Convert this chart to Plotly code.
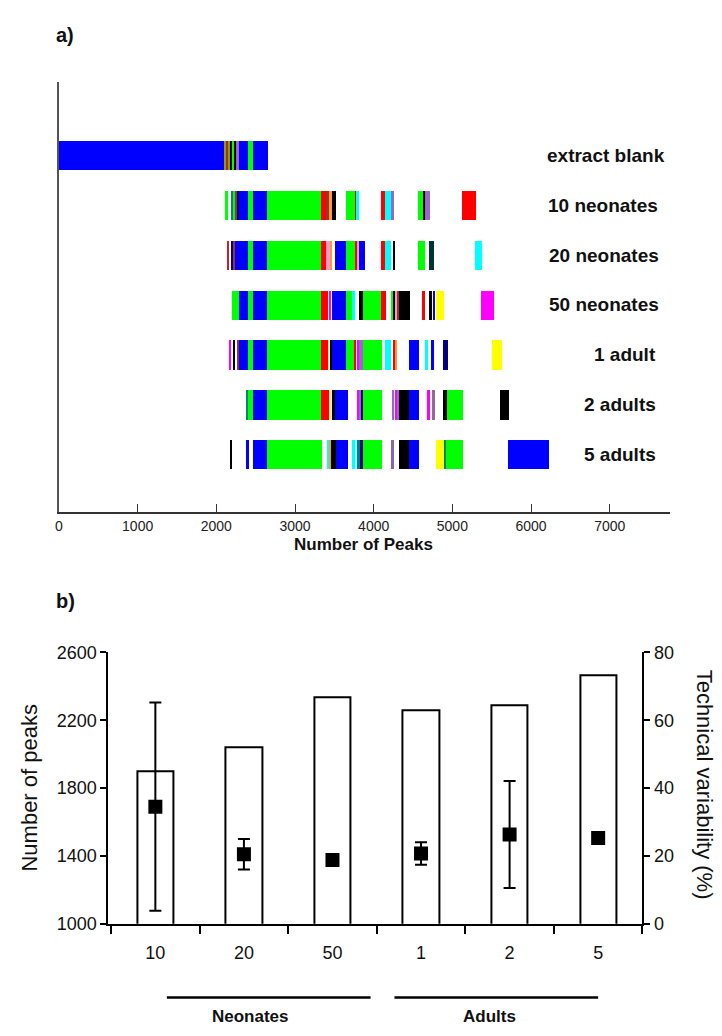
import plotly.graph_objects as go

# ---------------- data: panel a (peak segments per sample, in Number of Peaks) ----------------
B, G, R, C, M, Y, K = "#0000FF", "#00FF00", "#FF0000", "#00FFFF", "#FF00FF", "#FFFF00", "#000000"
P, N, O, OR, BR, T, PK, CR, GP = ("#9966CC", "#000080", "#999900", "#FF9933", "#993333",
                                  "#008080", "#FF99CC", "#FFEEAA", "#996699")

row_labels = ["extract blank", "10 neonates", "20 neonates", "50 neonates",
              "1 adult", "2 adults", "5 adults"]

seg_blank = [(0, 2107, B), (2107, 2128, O), (2128, 2149, BR), (2149, 2178, O), (2178, 2204, K),
             (2204, 2225, G), (2225, 2246, K), (2246, 2288, P), (2288, 2400, B), (2400, 2465, G),
             (2465, 2655, B)]
seg_10n = [(2107, 2149, G), (2191, 2215, T), (2215, 2240, G), (2240, 2262, BR), (2262, 2290, N),
           (2290, 2400, B), (2400, 2465, G), (2465, 2642, B), (2642, 3329, G), (3329, 3392, R),
           (3392, 3434, BR), (3434, 3467, OR), (3467, 3518, K), (3653, 3763, G), (3763, 3779, R),
           (3779, 3813, C), (4095, 4142, R), (4142, 4226, C), (4226, 4256, P), (4563, 4622, G),
           (4622, 4656, K), (4656, 4711, P), (5119, 5296, R)]
seg_20n = [(2136, 2161, "#CC2222"), (2187, 2212, N), (2212, 2235, BR), (2235, 2400, B),
           (2400, 2465, G), (2465, 2642, B), (2642, 3329, G), (3329, 3400, R), (3400, 3442, PK),
           (3442, 3476, OR), (3510, 3653, B), (3653, 3763, G), (3763, 3784, R), (3784, 3813, PK),
           (3813, 3885, B), (4095, 4142, R), (4142, 4226, C), (4251, 4277, K), (4563, 4648, G),
           (4698, 4770, "#003333"), (5288, 5380, C)]
seg_50n = [(2204, 2288, G), (2288, 2400, B), (2400, 2465, G), (2465, 2642, B), (2642, 3329, G),
           (3329, 3413, R), (3434, 3463, M), (3476, 3653, B), (3653, 3729, G), (3729, 3763, C),
           (3813, 3868, K), (3868, 4095, G), (4095, 4150, R), (4214, 4256, G), (4256, 4277, K),
           (4277, 4298, PK), (4298, 4327, BR), (4327, 4466, K), (4626, 4650, R), (4698, 4740, K),
           (4761, 4782, B), (4795, 4888, Y), (5363, 5528, M)]
seg_1a = [(2157, 2183, M), (2212, 2242, K), (2263, 2288, BR), (2288, 2400, B), (2400, 2465, G),
          (2465, 2642, B), (2642, 3329, G), (3329, 3413, R), (3413, 3440, CR), (3440, 3476, K),
          (3476, 3653, B), (3653, 3750, G), (3750, 3771, R), (3792, 3813, M), (3813, 3864, P),
          (3864, 4108, G), (4142, 4226, C), (4256, 4277, R), (4277, 4298, OR), (4454, 4580, B),
          (4647, 4690, C), (4723, 4770, B), (4875, 4942, N), (5507, 5625, Y)]
seg_2a = [(2381, 2402, T), (2402, 2465, G), (2465, 2642, B), (2642, 3329, G), (3329, 3434, R),
          (3434, 3476, CR), (3476, 3510, K), (3510, 3667, B), (3784, 3813, M), (3813, 3847, P),
          (3847, 3864, N), (3864, 4108, G), (4233, 4256, P), (4277, 4298, M), (4298, 4319, P),
          (4319, 4454, K), (4454, 4580, B), (4677, 4711, M), (4740, 4782, GP), (4875, 4929, K),
          (4929, 5140, G), (5604, 5718, K)]
seg_5a = [(2170, 2204, K), (2381, 2414, B), (2465, 2642, B), (2642, 3342, G), (3413, 3434, C),
          (3434, 3459, OR), (3459, 3518, K), (3518, 3667, B), (3729, 3763, C), (3763, 3784, "#AAFFFF"),
          (3784, 3830, T), (3830, 3864, N), (3864, 4108, G), (4214, 4256, "#8866AA"),
          (4319, 4445, K), (4445, 4580, B), (4795, 4888, Y), (4888, 4922, T), (4922, 5140, G),
          (5709, 6223, B)]
rows_segments = [seg_blank, seg_10n, seg_20n, seg_50n, seg_1a, seg_2a, seg_5a]
peak_ticks = [0, 1000, 2000, 3000, 4000, 5000, 6000, 7000]

# ---------------- data: panel b ----------------
categories = ["10", "20", "50", "1", "2", "5"]
num_peaks = [1900, 2041, 2334, 2259, 2286, 2465]
tech_var = [34.5, 20.5, 18.8, 20.7, 26.3, 25.3]
tech_var_err = [30.7, 4.5, 1.0, 3.3, 15.8, 1.5]
groups = ["Neonates", "Adults"]
group_start = [0.13, 2.70]
group_end = [2.43, 5.00]
group_label_pos = [1.07, 3.77]

W, H = 722, 1036
def px_x(v): return v / W
def px_y(v): return 1 - v / H

fig = go.Figure()

# panel a traces
for i, segs in enumerate(rows_segments):
    fig.add_trace(go.Bar(
        orientation="h",
        y=[i] * len(segs),
        base=[s[0] for s in segs],
        x=[s[1] - s[0] for s in segs],
        marker=dict(color=[s[2] for s in segs], line=dict(width=0)),
        width=0.59,
        xaxis="x", yaxis="y",
        showlegend=False, hoverinfo="skip",
    ))

# panel b traces
fig.add_trace(go.Bar(
    x=categories, y=num_peaks, width=0.41,
    marker=dict(color="white", line=dict(color="black", width=2)),
    xaxis="x2", yaxis="y2", showlegend=False,
))
fig.add_trace(go.Scatter(
    x=categories, y=tech_var, mode="markers",
    marker=dict(symbol="square", size=14, color="black"),
    error_y=dict(type="data", array=tech_var_err, color="black", thickness=2, width=6),
    xaxis="x2", yaxis="y3", showlegend=False,
))

ann = []
# row labels
label_x = [7730, 7640, 7650, 7650, 7610, 7620, 7620]
for i, lab in enumerate(row_labels):
    ann.append(dict(text=f"<b>{lab}</b>", x=label_x[i], y=i, xref="x", yref="y",
                    xanchor="right", yanchor="middle", showarrow=False,
                    font=dict(size=19, color="#111", family="Liberation Sans, Arial")))
ann.append(dict(text="<b>a)</b>", x=px_x(50), y=px_y(25), xref="paper", yref="paper",
                xanchor="left", yanchor="middle", showarrow=False,
                font=dict(size=20, color="#111", family="Liberation Sans, Arial")))
ann.append(dict(text="<b>Number of Peaks</b>", x=px_x(362), y=px_y(545), xref="paper", yref="paper",
                xanchor="center", yanchor="middle", showarrow=False,
                font=dict(size=17, color="#111", family="Liberation Sans, Arial")))
ann.append(dict(text="<b>b)</b>", x=px_x(50), y=px_y(603), xref="paper", yref="paper",
                xanchor="left", yanchor="middle", showarrow=False,
                font=dict(size=20, color="#111", family="Liberation Sans, Arial")))
ann.append(dict(text="Number of peaks", x=px_x(26), y=px_y(793), xref="paper", yref="paper",
                xanchor="center", yanchor="middle", showarrow=False, textangle=-90,
                font=dict(size=22, color="#111", family="Liberation Sans, Arial")))
ann.append(dict(text="Technical variability (%)", x=px_x(704), y=px_y(790), xref="paper", yref="paper",
                xanchor="center", yanchor="middle", showarrow=False, textangle=90,
                font=dict(size=22, color="#111", family="Liberation Sans, Arial")))
for g, c in zip(groups, group_label_pos):
    ann.append(dict(text=f"<b>{g}</b>", x=c, y=px_y(1026), xref="x2", yref="paper",
                    xanchor="center", yanchor="middle", showarrow=False,
                    font=dict(size=17, color="#111", family="Liberation Sans, Arial")))

shapes = []
for s, e in zip(group_start, group_end):
    shapes.append(dict(type="line", x0=s, x1=e, y0=px_y(1007), y1=px_y(1007),
                       xref="x2", yref="paper", line=dict(color="black", width=2.5)))

fig.update_layout(
    width=W, height=H, margin=dict(l=0, r=0, t=0, b=0),
    paper_bgcolor="white", plot_bgcolor="white",
    barmode="overlay", bargap=0,
    font=dict(family="Liberation Sans, Arial", color="#111"),
    xaxis=dict(domain=[px_x(55.3), px_x(670)], range=[0, 7770], anchor="y",
               showline=True, linecolor="#333", linewidth=1.5, showgrid=False, zeroline=False,
               ticks="inside", ticklen=8, tickcolor="#333", tickwidth=1,
               tickvals=peak_ticks, tickfont=dict(size=14, color="#222")),
    yaxis=dict(domain=[px_y(512), px_y(73)], range=[7.16, -1.48], anchor="x",
               showline=True, linecolor="#555", linewidth=2, showgrid=False, zeroline=False,
               showticklabels=False, ticks=""),
    xaxis2=dict(domain=[px_x(105), px_x(642)], range=[-0.53, 5.5], anchor="y2",
                type="category", tickson="boundaries",
                showline=True, linecolor="black", linewidth=2, showgrid=False, zeroline=False,
                ticks="outside", ticklen=8, tickwidth=2, tickcolor="black",
                ticklabelstandoff=12, tickfont=dict(size=18, color="#111")),
    yaxis2=dict(domain=[px_y(931.7), px_y(655)], range=[1000, 2600], anchor="x2",
                tickvals=[1000, 1400, 1800, 2200, 2600],
                showline=True, linecolor="black", linewidth=2, showgrid=False, zeroline=False,
                ticks="outside", ticklen=6, tickwidth=2, tickcolor="black",
                tickfont=dict(size=18, color="#111")),
    yaxis3=dict(overlaying="y2", side="right", anchor="x2", range=[0, 80],
                tickvals=[0, 20, 40, 60, 80],
                showline=True, linecolor="black", linewidth=2, showgrid=False, zeroline=False,
                ticks="outside", ticklen=6, tickwidth=2, tickcolor="black",
                tickfont=dict(size=18, color="#111")),
    annotations=ann, shapes=shapes,
)

fig.write_html("out.html")
